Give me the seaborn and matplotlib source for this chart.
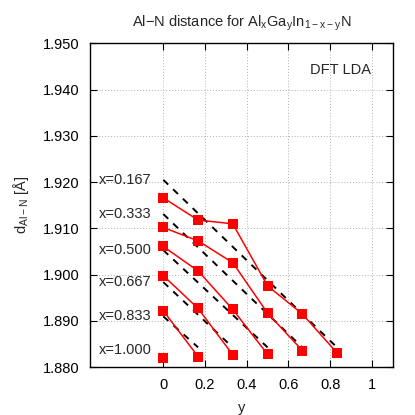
import numpy as np
import pandas as pd
import matplotlib
matplotlib.use("Agg")
import matplotlib.pyplot as plt
import seaborn as sns

# --- data ---
x_labels = ["x=0.167", "x=0.333", "x=0.500", "x=0.667", "x=0.833", "x=1.000"]
y_grid = [0.0, 0.167, 0.333, 0.5, 0.667, 0.833]
d_x0167 = [1.9166, 1.9118, 1.9110, 1.8976, 1.8915, 1.8831]
d_x0333 = [1.9102, 1.9073, 1.9026, 1.8917, 1.8836]
d_x0500 = [1.9061, 1.9008, 1.8925, 1.8828]
d_x0667 = [1.8998, 1.8927, 1.8827]
d_x0833 = [1.8922, 1.8823]
d_x1000 = [1.8819]
series = [d_x0167, d_x0333, d_x0500, d_x0667, d_x0833, d_x1000]

# linear-law reference lines (dashed): value at y=0 and at y=1-x
vegard_start = [1.9205, 1.9131, 1.9053, 1.8984, 1.8910, 1.8838]
vegard_end = [1.8843, 1.8843, 1.8843, 1.8843, 1.8843, 1.8838]
vegard_y_end = [0.833, 0.667, 0.5, 0.333, 0.167, 0.0]

title_text = "Al\u2212N distance for Al$_\\mathregular{x}$Ga$_\\mathregular{y}$In$_\\mathregular{1\u2212x\u2212y}$N"
ylabel_text = "d$_\\mathregular{Al\u2212N}$ [\u00c5]"
xlabel_text = "y"
yticks = [1.880, 1.890, 1.900, 1.910, 1.920, 1.930, 1.940, 1.950]
xticks = [0, 0.2, 0.4, 0.6, 0.8, 1]
xtick_labels = ["0", "0.2", "0.4", "0.6", "0.8", "1"]

rows = []
for lab, vals in zip(x_labels, series):
    for yy, v in zip(y_grid, vals):
        rows.append({"series": lab, "y": yy, "d": v})
df = pd.DataFrame(rows)

vrows = []
for lab, s, e, ye in zip(x_labels, vegard_start, vegard_end, vegard_y_end):
    vrows.append({"series": lab, "y": 0.0, "d": s})
    vrows.append({"series": lab, "y": ye, "d": e})
dfv = pd.DataFrame(vrows)

sns.set_style("ticks")
plt.rcParams["font.family"] = ["Liberation Sans", "DejaVu Sans"]
plt.rcParams["mathtext.fontset"] = "custom"
plt.rcParams["mathtext.rm"] = "Liberation Sans"

fig = plt.figure(figsize=(4.15, 4.15), dpi=100)
ax = fig.add_axes([0.2176, 0.115, 0.9463 - 0.2176, 0.8957 - 0.115])

pal = {lab: "black" for lab in x_labels}
sns.lineplot(data=dfv, x="y", y="d", hue="series", palette=pal, ax=ax,
             legend=False, linewidth=1.4, dashes=False, sort=False)
for ln in ax.get_lines():
    ln.set_dashes([3.5, 3.5])

palr = {lab: "#ff0000" for lab in x_labels}
sns.lineplot(data=df, x="y", y="d", hue="series", palette=palr, ax=ax,
             legend=False, linewidth=1.1, marker="s", markersize=6.5,
             markeredgewidth=0, sort=False)

for lab, s in zip(x_labels, vegard_start):
    ax.text(-0.055, s, lab, ha="right", va="center", fontsize=10.5)

ax.text(0.995, 1.9442, "DFT LDA", ha="right", va="center", fontsize=10.5)

ax.set_xlim(-0.35, 1.1)
ax.set_ylim(1.880, 1.950)
ax.set_xticks(xticks)
ax.set_xticklabels(xtick_labels)
ax.set_yticks(yticks)
ax.set_yticklabels([f"{t:.3f}" for t in yticks])
ax.grid(True, color="#b0b0b0", linestyle=(0, (1, 2)), linewidth=0.7)
ax.tick_params(direction="in", length=5, width=0.8, top=True, right=True,
               labelsize=10.5, pad=8, colors="black")
for sp in ax.spines.values():
    sp.set_linewidth(1.0)
    sp.set_color("black")
ax.set_title(title_text, fontsize=10.5, pad=12)
ax.set_xlabel(xlabel_text, fontsize=10.5, labelpad=6)
ax.set_ylabel(ylabel_text, fontsize=10.5, labelpad=8)

fig.savefig("out.png", dpi=100)
